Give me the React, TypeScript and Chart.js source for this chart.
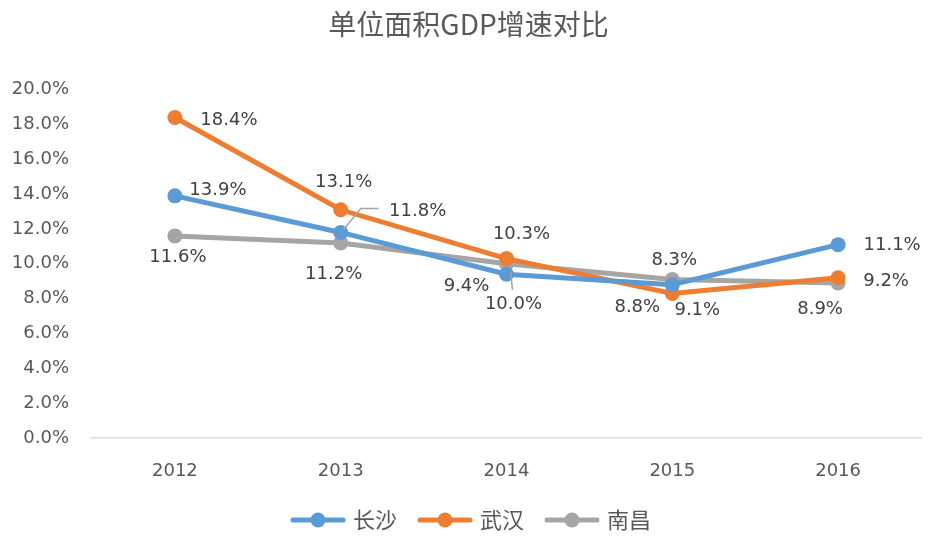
import React, { useEffect, useRef } from "react";
import { Chart, registerables } from "chart.js";

Chart.register(...registerables);

const categories = ["2012", "2013", "2014", "2015", "2016"];
const seriesNames = ["长沙", "武汉", "南昌"];
const changsha = [13.9, 11.8, 9.4, 8.8, 11.1];
const wuhan = [18.4, 13.1, 10.3, 8.3, 9.2];
const nanchang = [11.6, 11.2, 10.0, 9.1, 8.9];
const yTicks = [0, 2, 4, 6, 8, 10, 12, 14, 16, 18, 20];

const COLORS = ["#5B9BD5", "#ED7D31", "#A5A5A5"];

// label offsets (dx, dy) from each point, per series
const labelOffsets: number[][][] = [
  [[43, -6], [77, -21], [-40, 12], [-35, 23], [54, 1]],
  [[54, 3], [3, -27], [15, -24], [2, -33], [48, 4]],
  [[3, 21], [-7, 31], [7, 41], [25, 31], [-18, 26]],
];
// leader lines: [series, index, points relative to point]
const leaders: { s: number; i: number; pts: number[][] }[] = [
  { s: 0, i: 1, pts: [[3, -3], [20, -24], [38, -24]] },
  { s: 2, i: 2, pts: [[4, 8], [6, 26]] },
];

function legendImage(color: string) {
  const c = document.createElement("canvas");
  c.width = 56;
  c.height = 16;
  const ctx = c.getContext("2d")!;
  ctx.strokeStyle = color;
  ctx.lineWidth = 5;
  ctx.lineCap = "round";
  ctx.beginPath();
  ctx.moveTo(3, 8);
  ctx.lineTo(53, 8);
  ctx.stroke();
  ctx.fillStyle = color;
  ctx.beginPath();
  ctx.arc(28, 8, 7.5, 0, Math.PI * 2);
  ctx.fill();
  return c;
}

const labelPlugin = {
  id: "pointLabels",
  afterLayout(chart: any) {
    if (chart.legend) {
      chart.legend.left += 12;
      chart.legend.right += 12;
    }
    if (chart.titleBlock) {
      chart.titleBlock.left += 8;
      chart.titleBlock.right += 8;
    }
  },
  afterDatasetsDraw(chart: any) {
    const ctx = chart.ctx;
    ctx.save();
    ctx.strokeStyle = "#A5A5A5";
    ctx.lineWidth = 1.5;
    leaders.forEach((l) => {
      const el = chart.getDatasetMeta(l.s).data[l.i];
      ctx.beginPath();
      l.pts.forEach((p, k) => {
        const x = el.x + p[0];
        const y = el.y + p[1];
        if (k === 0) ctx.moveTo(x, y);
        else ctx.lineTo(x, y);
      });
      ctx.stroke();
    });
    ctx.font = "18px 'DejaVu Sans'";
    ctx.fillStyle = "#404040";
    ctx.textAlign = "center";
    ctx.textBaseline = "middle";
    chart.data.datasets.forEach((ds: any, s: number) => {
      const meta = chart.getDatasetMeta(s);
      meta.data.forEach((el: any, i: number) => {
        const off = labelOffsets[s][i];
        ctx.fillText(ds.data[i].toFixed(1) + "%", el.x + off[0], el.y + off[1]);
      });
    });
    ctx.restore();
  },
};

export default function App() {
  const ref = useRef<HTMLCanvasElement>(null);
  useEffect(() => {
    document.body.style.margin = "0";
    const all = [changsha, wuhan, nanchang];
    const chart = new Chart(ref.current!, {
      type: "line",
      data: {
        labels: categories,
        datasets: all.map((d, k) => ({
          label: seriesNames[k],
          data: d,
          borderColor: COLORS[k],
          backgroundColor: COLORS[k],
          borderWidth: 5,
          pointRadius: 7.5,
          pointHoverRadius: 7.5,
          pointBorderWidth: 0,
          tension: 0,
        })),
      },
      options: {
        animation: false,
        responsive: false,
        layout: { padding: { left: 0, right: 14, bottom: 5, top: 0 } },
        plugins: {
          title: {
            display: true,
            text: "单位面积GDP增速对比",
            color: "#595959",
            font: { family: "'Noto Sans CJK SC'", size: 28, weight: "normal" },
            padding: { top: 8, bottom: 48 },
          },
          legend: {
            position: "bottom",
            labels: {
              usePointStyle: true,
              pointStyleWidth: 48,
              color: "#595959",
              font: { family: "'Noto Sans CJK SC'", size: 22 },
              padding: 24,
              generateLabels: (ch: any) =>
                ch.data.datasets.map((ds: any, k: number) => ({
                  text: ds.label,
                  pointStyle: legendImage(COLORS[k]),
                  fillStyle: COLORS[k],
                  strokeStyle: COLORS[k],
                  lineWidth: 0,
                  fontColor: "#595959",
                  hidden: false,
                  datasetIndex: k,
                })),
            },
          },
          tooltip: { enabled: false },
        },
        scales: {
          x: {
            offset: true,
            grid: { display: false, drawTicks: false },
            border: { display: true, color: "#D9D9D9", width: 1.5 },
            afterFit: (axis: any) => {
              axis.height = 47;
            },
            ticks: {
              color: "#595959",
              font: { family: "'DejaVu Sans'", size: 18 },
              padding: 23,
            },
          },
          y: {
            min: 0,
            max: 20,
            afterBuildTicks: (axis: any) => {
              axis.ticks = yTicks.map((v) => ({ value: v }));
            },
            afterFit: (axis: any) => {
              axis.width = 92;
            },
            grid: { display: false, drawTicks: false },
            border: { display: false },
            ticks: {
              color: "#595959",
              font: { family: "'DejaVu Sans'", size: 18 },
              padding: 23,
              callback: (v: any) => Number(v).toFixed(1) + "%",
            },
          },
        },
      },
      plugins: [labelPlugin],
    });
    return () => chart.destroy();
  }, []);
  return (
    <div style={{ width: 935, height: 546 }}>
      <canvas ref={ref} width={935} height={546} />
    </div>
  );
}
